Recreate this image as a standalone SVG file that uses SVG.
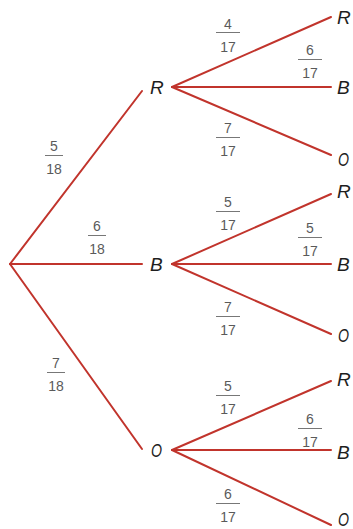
<svg xmlns="http://www.w3.org/2000/svg" width="353" height="529" viewBox="0 0 353 529">
<style>
.e{stroke:#c1342c;stroke-width:2;fill:none;stroke-linecap:round}
.bar{stroke:#777;stroke-width:1}
.f{font-family:"Liberation Sans",Arial,sans-serif;font-size:14px;fill:#5a5a5a;text-anchor:middle}
.n{font-family:"Liberation Sans",Arial,sans-serif;font-size:19px;font-style:italic;fill:#1e1e1e}
</style>
<rect width="353" height="529" fill="#fff"/>
<g id="connectors">
<line class="e" x1="10" y1="264" x2="142" y2="91"/>
<line class="e" x1="10" y1="264" x2="142" y2="264"/>
<line class="e" x1="10" y1="264" x2="142" y2="449"/>
<line class="e" x1="172" y1="87" x2="331" y2="17"/>
<line class="e" x1="172" y1="87" x2="331" y2="87"/>
<line class="e" x1="172" y1="87" x2="331" y2="155"/>
<line class="e" x1="172" y1="264" x2="331" y2="194"/>
<line class="e" x1="172" y1="264" x2="331" y2="264"/>
<line class="e" x1="172" y1="264" x2="331" y2="334"/>
<line class="e" x1="172" y1="450" x2="331" y2="381"/>
<line class="e" x1="172" y1="450" x2="331" y2="450"/>
<line class="e" x1="172" y1="450" x2="331" y2="525"/>
</g>
<g id="p1"><text class="f" x="54" y="151">5</text><line class="bar" x1="45" y1="155.5" x2="63" y2="155.5"/><text class="f" x="54" y="174">18</text></g>
<g id="p2"><text class="f" x="97" y="231">6</text><line class="bar" x1="88" y1="235.5" x2="106" y2="235.5"/><text class="f" x="97" y="254">18</text></g>
<g id="p3"><text class="f" x="56" y="368">7</text><line class="bar" x1="47" y1="372.5" x2="65" y2="372.5"/><text class="f" x="56" y="391">18</text></g>
<g id="q1"><text class="f" x="228" y="29">4</text><line class="bar" x1="216" y1="32.5" x2="240" y2="32.5"/><text class="f" x="228" y="52">17</text></g>
<g id="q2"><text class="f" x="310" y="55">6</text><line class="bar" x1="298" y1="59.5" x2="322" y2="59.5"/><text class="f" x="310" y="78">17</text></g>
<g id="q3"><text class="f" x="228" y="133">7</text><line class="bar" x1="216" y1="137.5" x2="240" y2="137.5"/><text class="f" x="228" y="156">17</text></g>
<g id="q4"><text class="f" x="228" y="207">5</text><line class="bar" x1="216" y1="211.5" x2="240" y2="211.5"/><text class="f" x="228" y="230">17</text></g>
<g id="q5"><text class="f" x="310" y="233">5</text><line class="bar" x1="298" y1="237.5" x2="322" y2="237.5"/><text class="f" x="310" y="256">17</text></g>
<g id="q6"><text class="f" x="228" y="312">7</text><line class="bar" x1="216" y1="316.5" x2="240" y2="316.5"/><text class="f" x="228" y="335">17</text></g>
<g id="q7"><text class="f" x="228" y="391">5</text><line class="bar" x1="216" y1="395.5" x2="240" y2="395.5"/><text class="f" x="228" y="414">17</text></g>
<g id="q8"><text class="f" x="310" y="424">6</text><line class="bar" x1="298" y1="428.5" x2="322" y2="428.5"/><text class="f" x="310" y="447">17</text></g>
<g id="q9"><text class="f" x="228" y="499">6</text><line class="bar" x1="216" y1="503.5" x2="240" y2="503.5"/><text class="f" x="228" y="522">17</text></g>
<g id="R1"><text class="n" x="150" y="94">R</text></g>
<g id="B1"><text class="n" x="150" y="271">B</text></g>
<g id="O1"><text class="n" x="151" y="457" textLength="11" lengthAdjust="spacingAndGlyphs">O</text></g>
<g id="RR"><text class="n" x="337" y="24">R</text></g>
<g id="RB"><text class="n" x="337" y="94">B</text></g>
<g id="RO"><text class="n" x="338" y="166" textLength="11" lengthAdjust="spacingAndGlyphs">O</text></g>
<g id="BR"><text class="n" x="337" y="198">R</text></g>
<g id="BB"><text class="n" x="337" y="271">B</text></g>
<g id="BO"><text class="n" x="338" y="342" textLength="11" lengthAdjust="spacingAndGlyphs">O</text></g>
<g id="OR"><text class="n" x="337" y="386">R</text></g>
<g id="OB"><text class="n" x="337" y="459">B</text></g>
<g id="OO"><text class="n" x="338" y="526" textLength="11" lengthAdjust="spacingAndGlyphs">O</text></g>
</svg>
